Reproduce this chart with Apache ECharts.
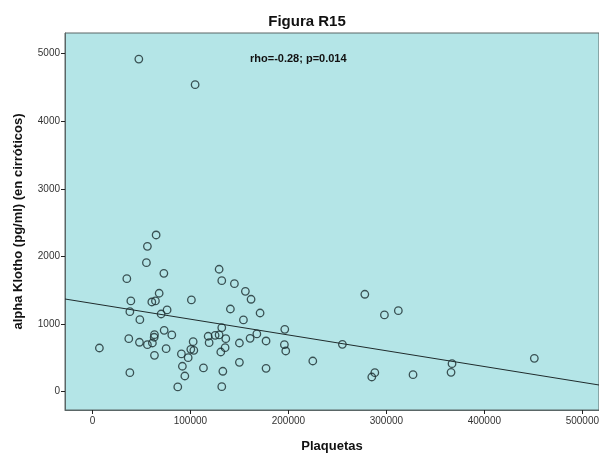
<!DOCTYPE html>
<html>
<head>
<meta charset="utf-8">
<script src="https://cdn.jsdelivr.net/npm/echarts@6/dist/echarts.min.js"></script>
<style>
html,body{margin:0;padding:0;background:#fff;}
#c{width:599px;height:457px;}
</style>
</head>
<body>
<div id="c"></div>
<script>
// Data
var plaquetas = [47350,104800,65000,56100,55100,72900,35100,68100,39200,60600,64300,101000,38200,70100,76200,48400,73200,81000,63300,63000,37100,48000,56100,61200,7100,75200,63300,90800,102800,100400,103500,97700,118100,119100,91800,113300,38200,94300,87100,129300,132000,144900,156100,161900,140800,171100,154100,132000,196300,167800,125200,129300,136100,160900,177200,150000,195900,197300,135400,131000,150000,133100,177200,132000,224900,255100,278000,298000,312200,367000,366000,288200,285100,327200,451000];
var klotho = [4920,4541,2318,2151,1908,1751,1672,1456,1342,1327,1342,1357,1183,1149,1209,1065,908,839,843,805,784,731,695,720,646,636,538,558,740,627,612,503,820,725,376,351,281,232,70,1811,1642,1598,1485,1367,1223,1164,1061,947,923,854,834,839,784,790,750,720,695,602,651,587,435,302,346,74,454,701,1441,1135,1198,414,287,281,217,251,494];
var xTicks = [0,100000,200000,300000,400000,500000];
var yTicks = [0,1000,2000,3000,4000,5000];
var fitX = [-28000, 517000];
var fitY = [1371, 99];

var pts = plaquetas.map(function(v,i){return [v, klotho[i]];});
var fitLine = fitX.map(function(v,i){return [v, fitY[i]];});

var chart = echarts.init(document.getElementById('c'), null, {renderer:'canvas'});
var font = 'Liberation Sans, Arial, sans-serif';
chart.setOption({
  animation:false,
  title:{
    text:'Figura R15', left:302, top:9, textAlign:'center',
    textStyle:{fontFamily:font, fontSize:15, fontWeight:'bold', color:'#111'}
  },
  grid:{left:65, top:33, right:0, bottom:47, outerBoundsMode:'none', containLabel:false, show:true, backgroundColor:'#b4e5e7', borderColor:'#5a6666', borderWidth:1},
  xAxis:{
    type:'value', min:-28000, max:517000,
    name:'Plaquetas', nameLocation:'middle', nameGap:30,
    nameTextStyle:{fontFamily:font, fontSize:13, fontWeight:'bold', color:'#111'},
    axisLine:{show:true, onZero:false, lineStyle:{color:'#5a6666', width:1}},
    axisTick:{show:true, length:4, customValues:xTicks, lineStyle:{color:'#222'}},
    axisLabel:{customValues:xTicks, formatter:function(v){return String(v);}, fontFamily:font, fontSize:10, color:'#333', margin:6},
    splitLine:{show:false}
  },
  yAxis:{
    type:'value', min:-271, max:5306,
    name:'alpha Klotho (pg/ml) (en cirróticos)', nameLocation:'middle', nameGap:40,
    nameTextStyle:{fontFamily:font, fontSize:13, fontWeight:'bold', color:'#111'},
    axisLine:{show:true, onZero:false, lineStyle:{color:'#5a6666', width:1}},
    axisTick:{show:true, length:4, customValues:yTicks, lineStyle:{color:'#222'}},
    axisLabel:{customValues:yTicks, formatter:function(v){return String(v);}, fontFamily:font, fontSize:10, color:'#333', margin:5},
    splitLine:{show:false}
  },
  graphic:[{
    type:'text', left:250, top:53,
    style:{text:'rho=-0.28; p=0.014', font:'bold 11px Liberation Sans, Arial, sans-serif', fill:'#111'}
  }],
  series:[
    {type:'line', data:fitLine, symbol:'none', silent:true, lineStyle:{color:'#1f2b2c', width:1}, z:2},
    {type:'scatter', data:pts, symbol:'circle', symbolSize:7.5,
     itemStyle:{color:'rgba(0,0,0,0)', borderColor:'#1a2c2e', borderWidth:1.3}, z:3}
  ]
});
</script>
</body>
</html>
